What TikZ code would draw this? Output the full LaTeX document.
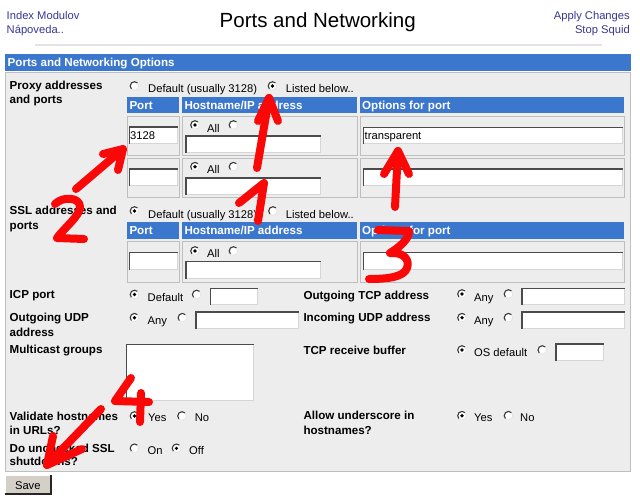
\documentclass[tikz,border=0pt]{standalone}
\usepackage{fontspec}
\setmainfont{Liberation Sans}
\definecolor{hblue}{RGB}{59,119,205}
\definecolor{panel}{RGB}{237,237,237}
\definecolor{linkc}{RGB}{55,55,150}
\definecolor{annot}{RGB}{250,8,8}
\definecolor{cellb}{RGB}{190,190,190}
\definecolor{inbord}{RGB}{75,75,75}
\definecolor{inlight}{RGB}{214,214,214}
\definecolor{btn}{RGB}{212,208,200}
\newcommand\inbx[4]{%
  \fill[white] (#1,#2) rectangle (#3,#4);
  \draw[inbord,line width=1.5] (#1+0.75,#4) -- (#1+0.75,#2+0.75) -- (#3,#2+0.75);
  \draw[inlight,line width=1] (#3-0.5,#2+1.5) -- (#3-0.5,#4-0.5) -- (#1+1.5,#4-0.5);
}
\newcommand\gcell[4]{\draw[cellb,fill=panel,line width=0.8] (#1,#2) rectangle (#3,#4);}
\newcommand\bcell[4]{\fill[hblue] (#1,#2) rectangle (#3,#4);}
\tikzset{
  lbl/.style={font=\bfseries\fontsize{11.6}{14}\selectfont, anchor=base west, inner sep=0},
  txt/.style={font=\fontsize{11.2}{13}\selectfont, anchor=base west, inner sep=0},
  hdr/.style={font=\bfseries\fontsize{11.6}{14}\selectfont, text=white, anchor=base west, inner sep=0},
  lnk/.style={font=\fontsize{11.2}{13}\selectfont, text=linkc, inner sep=0},
  ink/.style={draw=annot, line width=8, line cap=round, line join=round},
  radio/.pic={
    \fill[white] (0,0) circle[radius=4.8];
    \draw[gray!45!black, line width=1.1] (135:4.3) arc[start angle=135, end angle=315, radius=4.3];
    \draw[gray!22, line width=0.9] (315:4.3) arc[start angle=315, end angle=495, radius=4.3];
  },
  radioon/.pic={
    \pic {radio};
    \fill[black] (0,0) circle[radius=1.8];
  }
}
\begin{document}
\begin{tikzpicture}[x=1pt,y=-1pt]
\useasboundingbox[fill=white] (0,0) rectangle (640,498);

% header
\node[lnk, anchor=base west] (idx) at (6.5,19) {Index Modulov};
\node[lnk, anchor=base west] (help) at (6.5,33) {Nápoveda..};
\node[font=\fontsize{20.5}{24}\selectfont, anchor=base, inner sep=0] (title) at (317.7,27.5) {Ports and Networking};
\node[lnk, anchor=base east] (apply) at (630,19) {Apply Changes};
\node[lnk, anchor=base east] (stop) at (630,33) {Stop Squid};
\draw[gray!22, line width=1.5] (35,45) -- (602,45);

% bar and panel
\fill[hblue] (5,53.5) rectangle (631,71);
\node[hdr] (bart) at (7.5,66.5) {Ports and Networking Options};
\draw[gray!50, fill=panel] (5.5,72.5) rectangle (630,471.5);

% proxy addresses
\node[lbl] (proxy1) at (9.5,89) {Proxy addresses};
\node[lbl] (proxy2) at (9.5,103.3) {and ports};
\pic at (134.5,86) {radio};
\node[txt] (pdef) at (148,92.3) {Default (usually 3128)};
\pic at (272.5,86) {radioon};
\node[txt] (plist) at (285.7,92.3) {Listed below..};

\bcell{127}{97}{179}{113.3}
\bcell{182}{97}{357}{113.3}
\bcell{360}{97}{624}{113.3}
\node[hdr] (h1a) at (129.3,109.3) {Port};
\node[hdr] (h1b) at (184.3,109.3) {Hostname/IP address};
\node[hdr] (h1c) at (362,109.3) {Options for port};

\gcell{127}{116}{179}{155}
\gcell{182}{116}{357}{155}
\gcell{360}{116}{624}{155}
\gcell{127}{158}{179}{197}
\gcell{182}{158}{357}{197}
\gcell{360}{158}{624}{197}

\inbx{128.5}{126}{177.5}{143.5}
\node[txt] (v3128) at (130,139) {3128};
\pic at (195,125) {radioon};
\node[txt] (all1) at (207,132.3) {All};
\pic at (233.5,125) {radio};
\inbx{185}{135}{321}{153}
\inbx{362.5}{126.5}{623}{144}
\node[txt] (vtr) at (364.5,139.5) {transparent};

\inbx{128.5}{168}{177.5}{185.5}
\pic at (195,166.7) {radioon};
\node[txt] (all2) at (207,173.5) {All};
\pic at (233.5,166.7) {radio};
\inbx{185}{177}{321}{195}
\inbx{362.5}{168}{623}{185.5}

% SSL
\node[lbl] (ssl1) at (9.5,214) {SSL addresses and};
\node[lbl] (ssl2) at (9.5,229) {ports};
\pic at (134.5,211) {radioon};
\node[txt] (sdef) at (148,218) {Default (usually 3128)};
\pic at (273,211) {radio};
\node[txt] (slist) at (285.7,218) {Listed below..};

\bcell{127}{222.3}{179}{238.8}
\bcell{182}{222.3}{357}{238.8}
\bcell{360}{222.3}{624}{238.8}
\node[hdr] (h2a) at (129.3,234.8) {Port};
\node[hdr] (h2b) at (184.3,234.8) {Hostname/IP address};
\node[hdr] (h2c) at (362,234.8) {Options for port};

\gcell{127}{241.5}{179}{282}
\gcell{182}{241.5}{357}{282}
\gcell{360}{241.5}{624}{282}
\inbx{128.5}{251.5}{177.5}{269.5}
\pic at (195,251) {radioon};
\node[txt] (all3) at (207,257) {All};
\pic at (233.5,251) {radio};
\inbx{185}{260.5}{321}{279}
\inbx{362.5}{251.5}{623}{270}

% ICP / TCP
\node[lbl] (icp) at (9.5,298.5) {ICP port};
\pic at (134.5,294.5) {radioon};
\node[txt] (icpdef) at (147.5,301.8) {Default};
\pic at (196.7,294.5) {radio};
\inbx{209.5}{287.5}{258}{305}

\node[lbl] (otcp) at (303.3,299) {Outgoing TCP address};
\pic at (462,294) {radioon};
\node[txt] (otcpany) at (474,301.5) {Any};
\pic at (508.5,294) {radio};
\inbx{521}{287.5}{625}{305}

% UDP
\node[lbl] (oudp1) at (9.5,321.5) {Outgoing UDP};
\node[lbl] (oudp2) at (9.5,336) {address};
\pic at (134.5,317.7) {radioon};
\node[txt] (oudpany) at (147.5,324.5) {Any};
\pic at (182.4,317.7) {radio};
\inbx{195}{311}{299}{328.5}

\node[lbl] (iudp) at (303.3,321.8) {Incoming UDP address};
\pic at (462,317.7) {radioon};
\node[txt] (iudpany) at (474,324.8) {Any};
\pic at (508.5,317.7) {radio};
\inbx{521}{311}{625}{328.5}

% multicast / buffer
\node[lbl] (mcast) at (9.5,353) {Multicast groups};
\inbx{125.5}{343.5}{253.5}{401}
\node[lbl] (tcpbuf) at (303.3,354) {TCP receive buffer};
\pic at (462,350) {radioon};
\node[txt] (osdef) at (474,356.5) {OS default};
\pic at (542.3,350) {radio};
\inbx{555}{343}{603.5}{360.5}

% validate / underscore
\node[lbl] (val1) at (9.5,420) {Validate hostnames};
\node[lbl] (val2) at (9.5,434) {in URLs?};
\pic at (134.5,416) {radioon};
\node[txt] (valy) at (148,421.8) {Yes};
\pic at (182,416) {radio};
\node[txt] (valn) at (194.7,421.8) {No};

\node[lbl] (und1) at (303.3,419.8) {Allow underscore in};
\node[lbl] (und2) at (303.3,434.2) {hostnames?};
\pic at (462,415.7) {radioon};
\node[txt] (undy) at (474,421.5) {Yes};
\pic at (508.5,415.7) {radio};
\node[txt] (undn) at (520,421.5) {No};

% unclean ssl
\node[lbl] (ssd1) at (9.5,452.4) {Do unchecked SSL};
\node[lbl] (ssd2) at (9.5,465.8) {shutdowns?};
\pic at (134.5,448.3) {radio};
\node[txt] (sson) at (147.5,454.2) {On};
\pic at (176.5,448.3) {radioon};
\node[txt] (ssoff) at (189,454.2) {Off};

% save button
\fill[btn] (4.5,475) rectangle (51.5,494.5);
\draw[white, line width=1] (5,494) -- (5,475.5) -- (51,475.5);
\draw[gray!30!black, line width=1.2] (4.5,494) -- (51,494) -- (51,475);
\node[font=\fontsize{11.2}{13}\selectfont, anchor=base, inner sep=0] (save) at (27.8,489) {Save};

% red annotations
\coordinate (a1s) at (257,168);
\coordinate (a1t) at (269,98);
\coordinate (a1l) at (258,121);
\coordinate (a1r) at (278,121);
\draw[ink] (a1s) -- (a1t);
\draw[ink] (a1l) -- (a1t) -- (a1r);
\draw[ink] (239,203) -- (264,183) -- (258,221);

\coordinate (a2s) at (76,189);
\coordinate (a2t) at (123,149);
\coordinate (a2l) at (103,154);
\coordinate (a2r) at (118,170);
\draw[ink] (a2s) -- (a2t);
\draw[ink] (a2l) -- (a2t) -- (a2r);
\draw[ink] (55,204) .. controls (63,196) and (80,197) .. (80,207) .. controls (80,216) and (64,228) .. (57,238) -- (84,239);

\coordinate (a3s) at (395,207);
\coordinate (a3t) at (398,151);
\coordinate (a3l) at (384,174);
\coordinate (a3r) at (409,174);
\draw[ink] (a3s) -- (a3t);
\draw[ink] (a3l) -- (a3t) -- (a3r);
\draw[ink] (378,230) -- (409,231) .. controls (409,240) and (398,248) .. (390,253) .. controls (404,252) and (410,260) .. (407,268) .. controls (404,277) and (388,279) .. (369,279);

\coordinate (a4s) at (101,409);
\coordinate (a4t) at (47,465);
\coordinate (a4l) at (53,436);
\coordinate (a4r) at (82,449);
\draw[ink] (a4s) -- (a4t);
\draw[ink] (a4l) -- (a4t) -- (a4r);
\draw[ink] (131,378) -- (115,401) -- (149,402);
\draw[ink] (141,393) -- (140,422);
\end{tikzpicture}
\end{document}
